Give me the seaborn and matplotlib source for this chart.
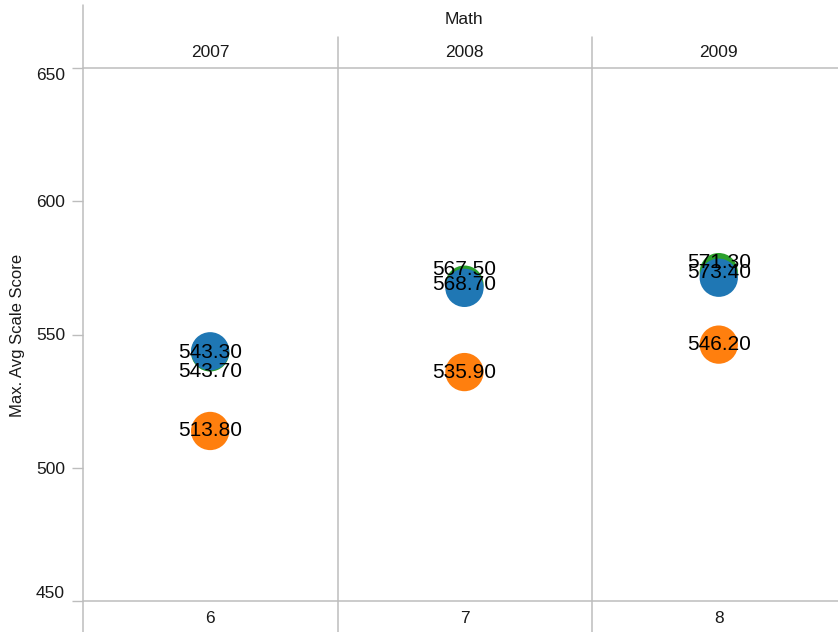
"""Max. average scale score per cohort year, Math, Tableau-style dot panes."""

import pandas as pd
import matplotlib.pyplot as plt
from matplotlib.lines import Line2D
import seaborn as sns

# data
years = [2007, 2008, 2009]
grades = [6, 7, 8]
groups = ["Group C", "Group A", "Group B"]          # drawn in this order (green under blue)
group_colors = {"Group A": "#1f77b4", "Group B": "#ff7f0e", "Group C": "#2ca02c"}
score_a = [543.7, 567.5, 571.3]   # blue
score_b = [513.8, 535.9, 546.2]   # orange
score_c = [543.3, 568.7, 573.4]   # green
y_ticks = [450, 500, 550, 600, 650]

# label nudges (pixels, up positive) where Tableau moved colliding labels
label_nudge = {(2007, "Group A"): -20, (2008, "Group A"): 18, (2009, "Group A"): 15}

by_group = {"Group A": score_a, "Group B": score_b, "Group C": score_c}
rows = []
for g in groups:
    for yr, gr, v in zip(years, grades, by_group[g]):
        rows.append({"year": yr, "grade": gr, "group": g, "score": v})
df = pd.DataFrame(rows)

sns.set_theme(style="white")
plt.rcParams["font.family"] = ["Liberation Sans", "DejaVu Sans"]

W, H = 838, 632
fig = plt.figure(figsize=(W / 100, H / 100), dpi=100)
GRID = "#bdbdbd"
TXT = "#1a1a1a"

x0, col_w = 83, 254.3
top, bottom = 68, 601

for i, (yr, gr) in enumerate(zip(years, grades)):
    left = x0 + i * col_w
    ax = fig.add_axes([left / W, (H - bottom) / H, col_w / W, (bottom - top) / H])
    sub = df[df["year"] == yr]
    sns.scatterplot(data=sub, x="grade", y="score", hue="group", palette=group_colors,
                    s=760, linewidth=0, alpha=1, legend=False, ax=ax)
    for _, r in sub.iterrows():
        ax.annotate(f"{r['score']:.2f}", (r["grade"], r["score"]),
                    xytext=(0, label_nudge.get((yr, r["group"]), 0)),
                    textcoords="offset pixels", ha="center", va="center",
                    fontsize=15, color="black")
    ax.set_xlim(gr - 0.5, gr + 0.5)
    ax.set_ylim(450, 650)
    ax.set_xticks([gr])
    ax.set_xticklabels([str(gr)])
    ax.tick_params(axis="x", length=0, pad=7, labelsize=12.5, colors=TXT)
    ax.set_xlabel("")
    ax.set_ylabel("")
    for s in ax.spines.values():
        s.set_visible(False)
    ax.text(0.5, 1 + 15 / (bottom - top), str(yr), transform=ax.transAxes,
            ha="center", va="center", fontsize=12.5, color=TXT)
    if i == 0:
        ax.set_yticks(y_ticks)
        ax.tick_params(axis="y", length=8, width=1, pad=5,
                       labelsize=12.5, labelcolor=TXT, color=GRID, left=True)
        labels = ax.get_yticklabels()
        labels[0].set_va("bottom")
        labels[-1].set_va("top")
    else:
        ax.set_yticks([])


def fig_line(xa, ya, xb, yb):
    fig.add_artist(Line2D([xa / W, xb / W], [1 - ya / H, 1 - yb / H],
                          transform=fig.transFigure, color=GRID, linewidth=1.1))


fig_line(83, 5, 83, H)
fig_line(338, 37, 338, H)
fig_line(592, 37, 592, H)
fig_line(83, top, W, top)
fig_line(83, bottom, W, bottom)

fig.text(464 / W, 1 - 19 / H, "Math", ha="center", va="center", fontsize=12.5, color=TXT)
fig.text(18 / W, 1 - 335 / H, "Max. Avg Scale Score", rotation=90,
         ha="center", va="center", fontsize=12, color=TXT)

fig.savefig("out.png", dpi=100)
